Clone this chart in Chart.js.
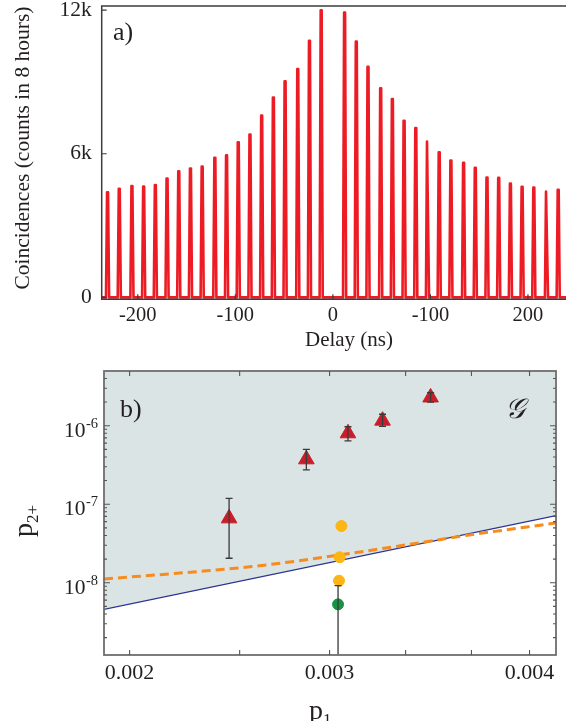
<!DOCTYPE html>
<html>
<head>
<meta charset="utf-8">
<script src="https://cdn.jsdelivr.net/npm/chart.js@4.4.1/dist/chart.umd.min.js"></script>
<style>
  html, body { margin: 0; padding: 0; background: #fff; }
  #wrap { position: relative; width: 566px; height: 721px; overflow: hidden; }
  .box { position: absolute; left: 0; width: 566px; }
  #boxA { top: 0; height: 354px; }
  #boxB { top: 355px; height: 366px; }
</style>
</head>
<body>
<div id="wrap">
  <div class="box" id="boxA"><canvas id="chartA"></canvas></div>
  <div class="box" id="boxB"><canvas id="chartB"></canvas></div>
</div>
<script>
// ---- a) coincidence histogram ----
const peakDelays = [-231, -219, -206, -194, -182, -170, -158, -146, -134, -121, -109, -97, -85, -73, -61, -49, -36, -24, -12,
                    12, 24, 36, 49, 61, 73, 85, 97, 109, 121, 134, 146, 158, 170, 182, 194, 206, 219, 231];
const peakCounts = [4390, 4540, 4650, 4630, 4690, 4960, 5270, 5380, 5460, 5830, 5930, 6480, 6800, 7590, 8350, 9030, 9540, 10720, 11990,
                    11900, 10680, 9630, 8730, 8280, 7380, 7070, 6510, 6060, 5720, 5620, 5410, 5010, 4990, 4750, 4620, 4590, 4420, 4490];
const delayTicks = [-200, -100, 0, 100, 200];
const delayTickLabels = ['-200', '-100', '0', '-100', '200'];
const countTicks = [0, 6000, 12000];
const countTickLabels = ['0', '6k', '12k'];

// ---- b) p2+ versus p1 ----
const triP1 = [0.002447, 0.002862, 0.003114, 0.003340, 0.003682];
const triP2 = [6.6e-8, 3.73e-7, 8.0e-7, 1.16e-6, 2.29e-6];
const triLow = [2.05e-8, 2.73e-7, 6.4e-7, 9.8e-7, 2.0e-6];
const triHigh = [1.19e-7, 5.0e-7, 9.7e-7, 1.40e-6, 2.63e-6];
const yellowP1 = [0.003073, 0.003062, 0.003058];
const yellowP2 = [5.27e-8, 2.11e-8, 1.06e-8];
const greenP1 = [0.003052];
const greenP2 = [5.3e-9];
const greenLow = [1e-10];
const greenHigh = [9.2e-9];
const boundP1 = [0.0018988, 0.004748];
const boundP2 = [4.58e-9, 7.14e-8];
const modelP1 = [0.0018988, 0.0023, 0.002541, 0.002809, 0.003061, 0.00343, 0.003983, 0.004748];
const modelP2 = [1.114e-8, 1.389e-8, 1.585e-8, 1.89e-8, 2.254e-8, 2.891e-8, 4.052e-8, 5.761e-8];
const p1Ticks = [0.002, 0.0025, 0.003, 0.0035, 0.004, 0.0045];
const p1TickLabels = ['0.002', '', '0.003', '', '', '0.004'];
const p2Ticks = [1e-8, 1e-7, 1e-6];
const p2TickExp = ['-8', '-7', '-6'];

const serif = "'Liberation Serif', 'Times New Roman', serif";
const ink = '#231f20';

// histogram trace: baseline with a narrow spike at each peak
const histPoints = [{x: -240, y: 0}];
peakDelays.forEach((d, i) => {
  histPoints.push({x: d - 1.6, y: 0}, {x: d - 0.5, y: peakCounts[i]}, {x: d + 0.5, y: peakCounts[i]}, {x: d + 1.6, y: 0});
});
histPoints.push({x: 240, y: 0});

// keep the plot box where it is even when edge labels stick out
const noEdgePad = s => { s.paddingTop = 0; s.paddingBottom = 0; s.paddingLeft = 0; s.paddingRight = 0; };

const frameA = {
  id: 'frameA',
  afterDraw(chart) {
    const {ctx, chartArea: a, scales: {x, y}} = chart;
    ctx.save();
    ctx.strokeStyle = '#3c3c3c';
    ctx.lineWidth = 1.5;
    ctx.beginPath();
    ctx.moveTo(a.right + 2, a.top);
    ctx.lineTo(a.left, a.top);
    ctx.lineTo(a.left, a.bottom);
    ctx.lineTo(a.right + 2, a.bottom);
    ctx.stroke();
    ctx.lineWidth = 1.2;
    ctx.beginPath();
    delayTicks.forEach(v => {
      const px = x.getPixelForValue(v);
      ctx.moveTo(px, a.bottom); ctx.lineTo(px, a.bottom - 5);
    });
    countTicks.forEach(v => {
      const py = y.getPixelForValue(v);
      ctx.moveTo(a.left, py); ctx.lineTo(a.left + 5, py);
    });
    ctx.stroke();

    ctx.fillStyle = ink;
    ctx.font = '21px ' + serif;
    ctx.textAlign = 'center';
    ctx.textBaseline = 'middle';
    ctx.fillText('Delay (ns)', 349, 340);
    ctx.save();
    ctx.translate(23, 148);
    ctx.rotate(-Math.PI / 2);
    ctx.font = '21.5px ' + serif;
    ctx.fillText('Coincidences (counts in 8 hours)', 0, 0);
    ctx.restore();
    ctx.font = '26px ' + serif;
    ctx.textAlign = 'left';
    ctx.textBaseline = 'alphabetic';
    ctx.fillText('a)', 113, 40);
    ctx.restore();
  }
};

new Chart(document.getElementById('chartA'), {
  type: 'line',
  data: {
    datasets: [{
      data: histPoints,
      borderColor: '#ed1c24',
      borderWidth: 2.6,
      borderJoinStyle: 'round',
      pointRadius: 0,
      tension: 0,
      fill: false
    }]
  },
  options: {
    responsive: true,
    maintainAspectRatio: false,
    animation: false,
    events: [],
    layout: { padding: { left: 0, right: 0, top: 6, bottom: 0 } },
    plugins: { legend: { display: false }, tooltip: { enabled: false } },
    scales: {
      x: {
        type: 'linear', min: -237, max: 239,
        afterBuildTicks: s => { s.ticks = delayTicks.map(v => ({ value: v })); },
        afterFit: s => { s.height = 54.7; noEdgePad(s); },
        grid: { display: false, drawTicks: false },
        border: { display: false },
        ticks: {
          callback: (v, i) => delayTickLabels[i],
          autoSkip: false, maxRotation: 0, padding: 4,
          color: ink, font: { family: serif, size: 20.5 }
        }
      },
      y: {
        min: -80, max: 12170,
        afterBuildTicks: s => { s.ticks = countTicks.map(v => ({ value: v })); },
        afterFit: s => { s.width = 101.7; noEdgePad(s); },
        grid: { display: false, drawTicks: false },
        border: { display: false },
        ticks: {
          callback: (v, i) => countTickLabels[i],
          padding: 10,
          color: ink, font: { family: serif, size: 21.5 }
        }
      }
    }
  },
  plugins: [frameA]
});

// ---- panel b ----
const errorBars = {
  id: 'errorBars',
  afterDatasetsDraw(chart) {
    const {ctx, chartArea: a, scales: {x, y}} = chart;
    ctx.save();
    ctx.beginPath();
    ctx.rect(a.left, a.top, a.right - a.left, a.bottom - a.top);
    ctx.clip();
    ctx.strokeStyle = '#3a3a3a';
    ctx.lineWidth = 1.3;
    const draw = (xs, lo, hi) => {
      xs.forEach((v, i) => {
        const px = x.getPixelForValue(v);
        const pl = y.getPixelForValue(lo[i]);
        const ph = y.getPixelForValue(hi[i]);
        ctx.beginPath();
        ctx.moveTo(px, pl); ctx.lineTo(px, ph);
        ctx.moveTo(px - 3.5, ph); ctx.lineTo(px + 3.5, ph);
        ctx.moveTo(px - 3.5, pl); ctx.lineTo(px + 3.5, pl);
        ctx.stroke();
      });
    };
    draw(triP1, triLow, triHigh);
    draw(greenP1, greenLow, greenHigh);
    ctx.restore();
  }
};

const frameB = {
  id: 'frameB',
  afterDraw(chart) {
    const {ctx, chartArea: a, scales: {x, y}} = chart;
    ctx.save();
    ctx.strokeStyle = '#6e6e6e';
    ctx.lineWidth = 1.8;
    ctx.strokeRect(a.left, a.top, a.right - a.left, a.bottom - a.top);
    ctx.lineWidth = 1.1;
    ctx.strokeStyle = '#555';
    ctx.beginPath();
    p1Ticks.forEach(v => {
      const px = x.getPixelForValue(v);
      ctx.moveTo(px, a.bottom); ctx.lineTo(px, a.bottom - 5);
      ctx.moveTo(px, a.top); ctx.lineTo(px, a.top + 5);
    });
    for (let e = -10; e <= -5; e++) {
      for (let m = 1; m <= 9; m++) {
        const v = m * Math.pow(10, e);
        if (v < y.min || v > y.max) continue;
        const py = y.getPixelForValue(v);
        const len = m === 1 ? 6 : 3;
        ctx.moveTo(a.left, py); ctx.lineTo(a.left + len, py);
        ctx.moveTo(a.right, py); ctx.lineTo(a.right - len, py);
      }
    }
    ctx.stroke();

    // y tick labels 10^n
    ctx.fillStyle = ink;
    ctx.textBaseline = 'alphabetic';
    ctx.textAlign = 'right';
    p2Ticks.forEach((v, i) => {
      const py = y.getPixelForValue(v);
      ctx.font = '14.5px ' + serif;
      const w = ctx.measureText(p2TickExp[i]).width;
      ctx.fillText(p2TickExp[i], 98, py + 2);
      ctx.font = '21.5px ' + serif;
      ctx.fillText('10', 98 - w - 0.5, py + 11);
    });

    // axis titles
    ctx.textAlign = 'left';
    ctx.font = '28px ' + serif;
    ctx.fillText('p', 309, 364);
    ctx.font = '17px ' + serif;
    ctx.fillText('1', 323, 370);
    ctx.save();
    ctx.translate(32, 182);
    ctx.rotate(-Math.PI / 2);
    ctx.font = '28px ' + serif;
    ctx.fillText('p', 0, 0);
    const pw = ctx.measureText('p').width;
    ctx.font = '17px ' + serif;
    ctx.fillText('2+', pw, 6);
    ctx.restore();

    ctx.font = '26px ' + serif;
    ctx.fillText('b)', 120, 62);
    ctx.font = "italic 28px 'DejaVu Serif', serif";
    ctx.textAlign = 'center';
    ctx.textBaseline = 'middle';
    ctx.fillText('\u{1D4A2}', 515, 56);
    ctx.restore();
  }
};

const pts = (xs, ys) => xs.map((v, i) => ({ x: v, y: ys[i] }));

new Chart(document.getElementById('chartB'), {
  type: 'line',
  data: {
    datasets: [
      {
        data: pts(triP1, triP2), showLine: false, order: 1,
        pointStyle: 'triangle', pointRadius: 9,
        pointBackgroundColor: '#c81e2a', pointBorderColor: '#c81e2a', pointBorderWidth: 1
      },
      {
        data: pts(yellowP1, yellowP2), showLine: false, order: 2,
        pointStyle: 'circle', pointRadius: 5.5,
        pointBackgroundColor: '#fdb515', pointBorderColor: '#fdb515', pointBorderWidth: 1
      },
      {
        data: pts(greenP1, greenP2), showLine: false, order: 3,
        pointStyle: 'circle', pointRadius: 5.5,
        pointBackgroundColor: '#179441', pointBorderColor: '#179441', pointBorderWidth: 1
      },
      {
        data: pts(modelP1, modelP2), order: 4,
        borderColor: '#f68b1f', borderWidth: 3, borderDash: [9, 5],
        cubicInterpolationMode: 'monotone', pointRadius: 0, fill: false
      },
      {
        data: pts(boundP1, boundP2), order: 5,
        borderColor: '#2b3590', borderWidth: 1.3, pointRadius: 0,
        fill: 'end', backgroundColor: '#dbe4e5'
      }
    ]
  },
  options: {
    responsive: true,
    maintainAspectRatio: false,
    animation: false,
    events: [],
    layout: { padding: { left: 0, right: 3, top: 16, bottom: 0 } },
    plugins: { legend: { display: false }, tooltip: { enabled: false } },
    scales: {
      x: {
        type: 'logarithmic', min: 0.0018988, max: 0.004748,
        afterBuildTicks: s => { s.ticks = p1Ticks.map(v => ({ value: v })); },
        afterFit: s => { s.height = 66; noEdgePad(s); },
        grid: { display: false, drawTicks: false },
        border: { display: false },
        ticks: {
          callback: (v, i) => p1TickLabels[i],
          autoSkip: false, maxRotation: 0, padding: 5,
          color: ink, font: { family: serif, size: 22 }
        }
      },
      y: {
        type: 'logarithmic', min: 1.2e-9, max: 4.975e-6,
        afterFit: s => { s.width = 104; noEdgePad(s); },
        grid: { display: false, drawTicks: false },
        border: { display: false },
        ticks: { display: false }
      }
    }
  },
  plugins: [errorBars, frameB]
});
</script>
</body>
</html>
